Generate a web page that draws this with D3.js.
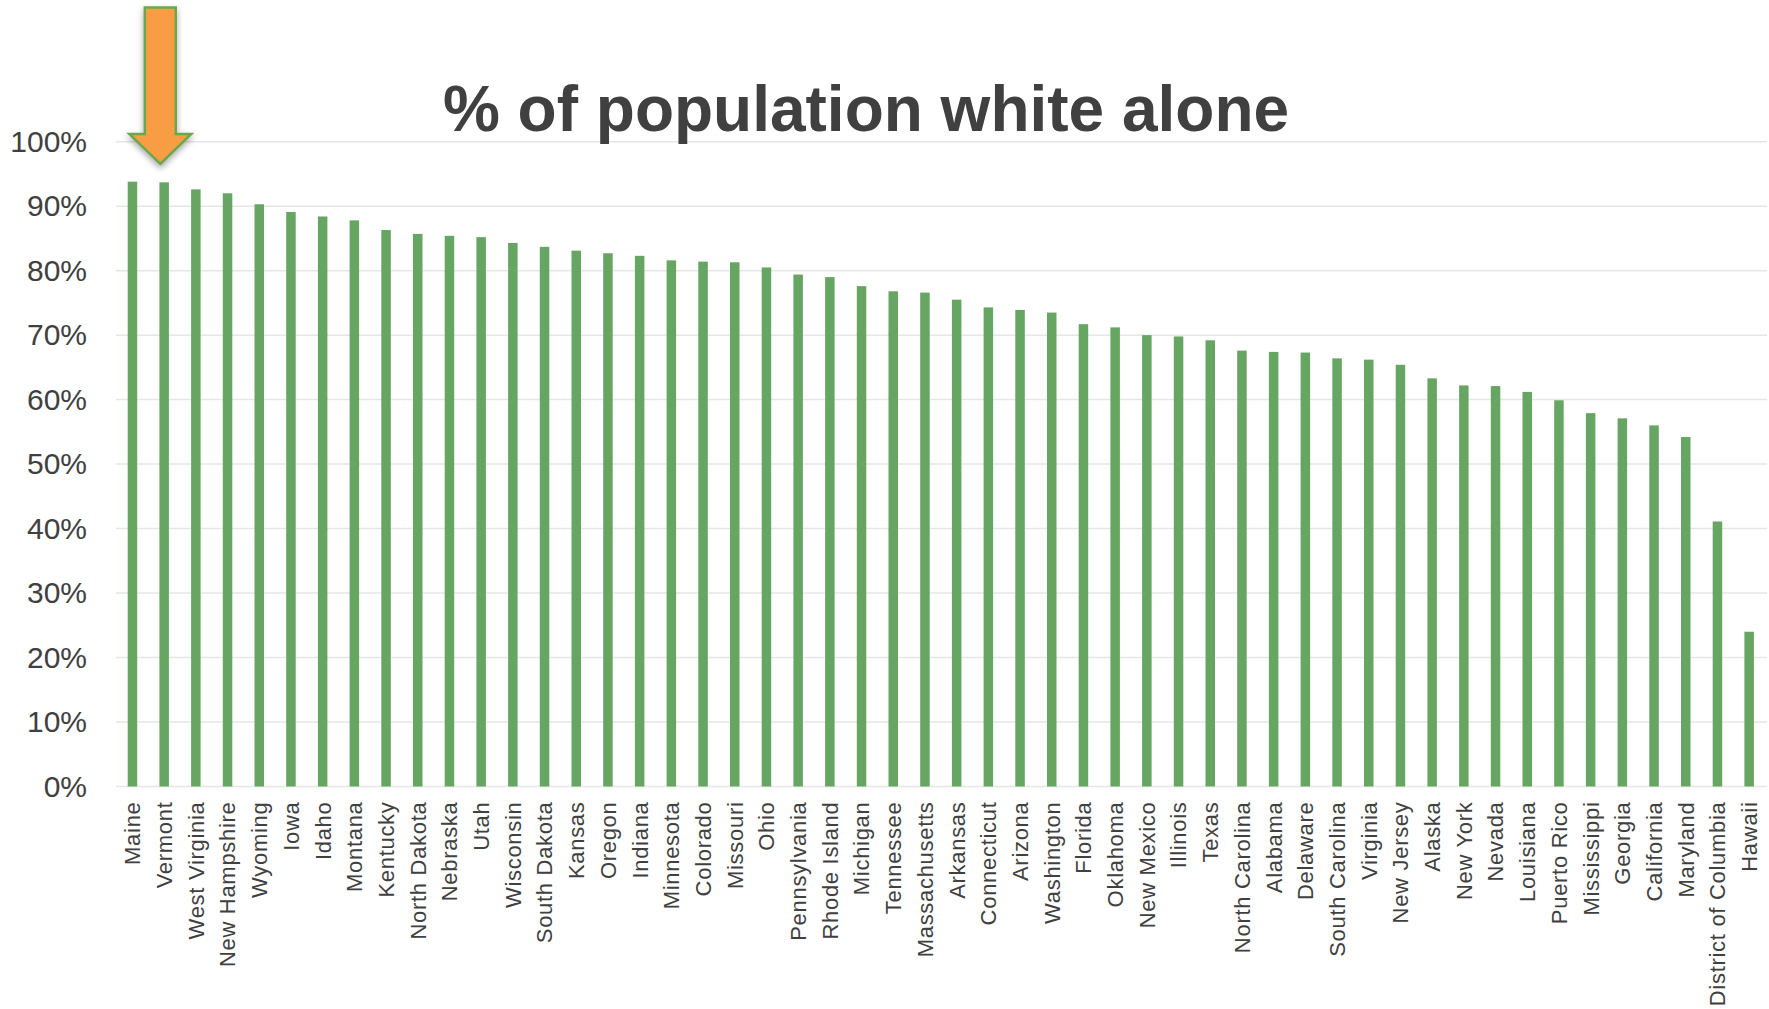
<!DOCTYPE html>
<html>
<head>
  <meta charset="utf-8">
  <title>% of population white alone</title>
  <script src="https://cdn.jsdelivr.net/npm/d3@7/dist/d3.min.js"></script>
  <style>
    html, body { margin: 0; padding: 0; background: #fff; }
    text { font-family: "Liberation Sans", Arial, sans-serif; fill: #404040; }
  </style>
</head>
<body>
<script>
  const width = 1769;
  const height = 1009;

  const states = ['Maine', 'Vermont', 'West Virginia', 'New Hampshire', 'Wyoming', 'Iowa', 'Idaho',
    'Montana', 'Kentucky', 'North Dakota', 'Nebraska', 'Utah', 'Wisconsin', 'South Dakota', 'Kansas',
    'Oregon', 'Indiana', 'Minnesota', 'Colorado', 'Missouri', 'Ohio', 'Pennsylvania', 'Rhode Island',
    'Michigan', 'Tennessee', 'Massachusetts', 'Arkansas', 'Connecticut', 'Arizona', 'Washington',
    'Florida', 'Oklahoma', 'New Mexico', 'Illinois', 'Texas', 'North Carolina', 'Alabama', 'Delaware',
    'South Carolina', 'Virginia', 'New Jersey', 'Alaska', 'New York', 'Nevada', 'Louisiana',
    'Puerto Rico', 'Mississippi', 'Georgia', 'California', 'Maryland', 'District of Columbia', 'Hawaii'];

  const whiteAlone = [93.8, 93.7, 92.6, 92.0, 90.3, 89.1, 88.4,
    87.8, 86.3, 85.7, 85.4, 85.2, 84.3, 83.7, 83.1,
    82.7, 82.3, 81.6, 81.4, 81.3, 80.5, 79.4, 79.0,
    77.6, 76.8, 76.6, 75.5, 74.3, 73.9, 73.5,
    71.7, 71.2, 70.0, 69.8, 69.2, 67.6, 67.4, 67.3,
    66.4, 66.2, 65.4, 63.3, 62.2, 62.1, 61.2,
    59.9, 57.9, 57.1, 56.0, 54.2, 41.1, 24.0];

  const yTicks = [0, 10, 20, 30, 40, 50, 60, 70, 80, 90, 100];
  const title = '% of population white alone';

  const svg = d3.select('body').append('svg')
    .attr('width', width)
    .attr('height', height);

  const x = d3.scaleBand()
    .domain(states)
    .range([116.6, 1765])
    .paddingInner(0.7)
    .paddingOuter(0.35);

  const y = d3.scaleLinear()
    .domain([0, 100])
    .range([786.5, 141.7]);

  // gridlines
  svg.append('g')
    .selectAll('line')
    .data(yTicks)
    .enter()
    .append('line')
    .attr('x1', 116)
    .attr('x2', 1767)
    .attr('y1', d => y(d))
    .attr('y2', d => y(d))
    .attr('stroke', '#e6e6e6')
    .attr('stroke-width', 1.5);

  // y axis labels
  let yAxis = d3.axisLeft(y)
    .tickValues(yTicks)
    .tickFormat(d => d + '%')
    .tickSize(0)
    .tickPadding(0);
  let yGroup = svg.append('g')
    .attr('transform', 'translate(87, 0)')
    .call(yAxis);
  yGroup.select('.domain').remove();
  yGroup.selectAll('text')
    .attr('font-size', 30)
    .attr('font-family', '"Liberation Sans", Arial, sans-serif')
    .attr('fill', '#404040');

  // bars
  svg.append('g')
    .selectAll('rect')
    .data(whiteAlone)
    .enter()
    .append('rect')
    .attr('x', (d, i) => x(states[i]))
    .attr('width', x.bandwidth())
    .attr('y', d => y(d))
    .attr('height', d => y(0) - y(d))
    .attr('fill', '#67a662');

  // x axis labels, rotated
  let xAxis = d3.axisBottom(x).tickSize(0).tickPadding(0);
  let xGroup = svg.append('g')
    .attr('transform', `translate(0, ${y(0)})`)
    .call(xAxis);
  xGroup.select('.domain').remove();
  xGroup.selectAll('text')
    .attr('font-size', 22)
    .attr('font-family', '"Liberation Sans", Arial, sans-serif')
    .attr('fill', '#404040')
    .attr('letter-spacing', 0.7)
    .attr('text-anchor', 'end')
    .attr('transform', 'translate(0, 15) rotate(-90)')
    .attr('x', 0)
    .attr('y', 0)
    .attr('dy', '0.36em');

  // title
  svg.append('text')
    .attr('x', 866)
    .attr('y', 131)
    .attr('text-anchor', 'middle')
    .attr('font-size', 64)
    .attr('font-weight', 'bold')
    .attr('fill', '#404040')
    .text(title);

  // arrow annotation pointing at the top states
  const defs = svg.append('defs');
  const shadow = defs.append('filter')
    .attr('id', 'shadow')
    .attr('x', '-30%').attr('y', '-10%')
    .attr('width', '160%').attr('height', '130%');
  shadow.append('feDropShadow')
    .attr('dx', 0).attr('dy', 3)
    .attr('stdDeviation', 3)
    .attr('flood-color', '#000')
    .attr('flood-opacity', 0.35);

  const ax = (x('Maine') + x('Vermont')) / 2 + x.bandwidth() / 2 + 12;
  const shaftHalf = 15.5;
  const headHalf = 31;
  const arrowTop = 7.5;
  const headTop = 134;
  const arrowTip = 164;
  const arrowPts = [
    [ax - shaftHalf, arrowTop], [ax + shaftHalf, arrowTop], [ax + shaftHalf, headTop],
    [ax + headHalf, headTop], [ax, arrowTip], [ax - headHalf, headTop], [ax - shaftHalf, headTop]
  ];
  svg.append('path')
    .attr('d', d3.line()(arrowPts) + 'Z')
    .attr('fill', '#f99d45')
    .attr('stroke', '#6aa84f')
    .attr('stroke-width', 2.5)
    .attr('stroke-linejoin', 'miter')
    .attr('filter', 'url(#shadow)');
</script>
</body>
</html>
